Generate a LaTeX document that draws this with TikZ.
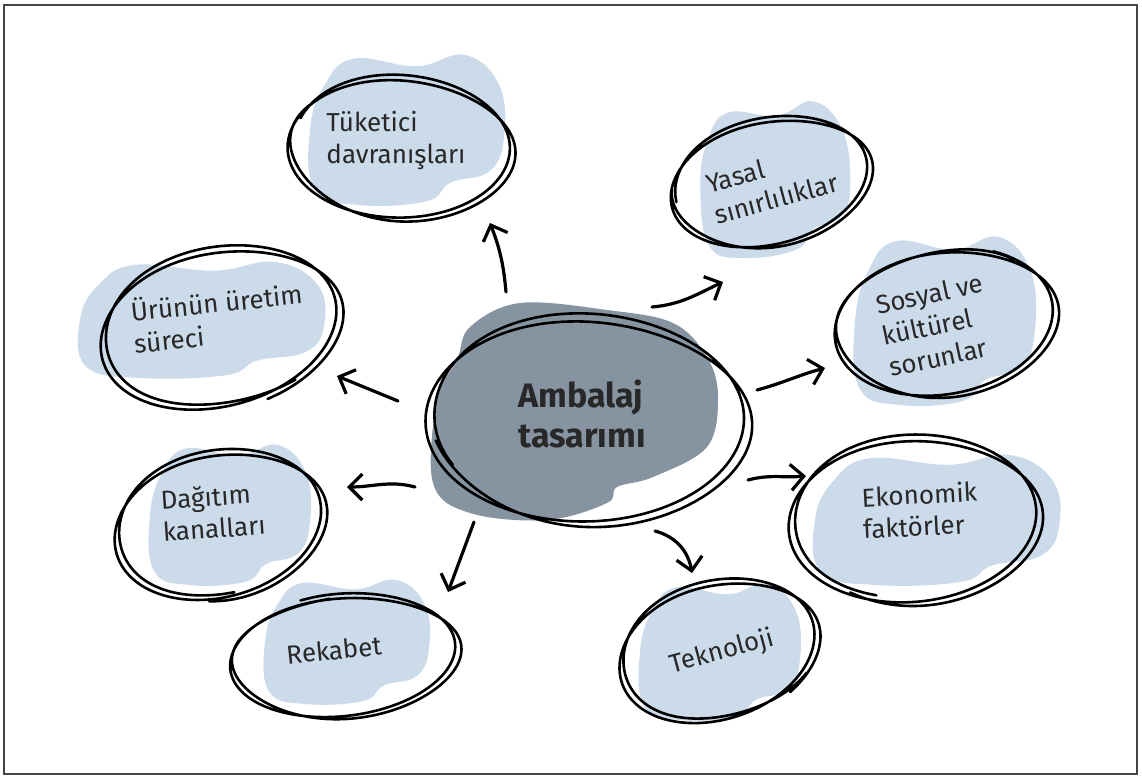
\documentclass[tikz,border=0pt]{standalone}
\usepackage{fontspec}
\setmainfont{Fira Sans}
\usetikzlibrary{arrows.meta}
\definecolor{blobc}{RGB}{203,219,234}
\definecolor{centc}{RGB}{134,148,162}
\definecolor{ink}{RGB}{40,40,40}
\definecolor{framec}{RGB}{68,68,68}
\newcommand\scrib[6]{%
 \draw[sk, shift={(#1,#2)}, rotate=#5] plot[smooth, domain=#6:#6+735, samples=120, variable=\t]
 ({#3*(1+0.035*sin(1.6*\t))*cos(\t)}, {#4*(1+0.05*cos(1.3*\t+40))*sin(\t)});}
\newcommand\blob[6]{%
 \fill[#6, shift={(#1,#2)}, rotate=#5, xscale=#3, yscale=#4] plot[smooth cycle, tension=0.7] coordinates
 {(-0.55,-0.95) (0.1,-0.85) (0.6,-1.0) (0.95,-0.6) (1.0,0.1) (0.85,0.55) (0.45,0.7) (0.2,0.95) (-0.5,1.0) (-0.95,0.8) (-1.0,0.0) (-0.85,-0.6)};}
\tikzset{
 sk/.style={line width=2.6pt, draw=black, line cap=round, line join=round},
 arr/.style={line width=3.2pt, line cap=round, -{Straight Barb[length=13pt, width=26pt, line width=3.2pt]}},
 lbl/.style={text=ink, font=\fontsize{26}{32}\selectfont, align=left, inner sep=0pt},
 clbl/.style={text=ink, font=\bfseries\fontsize{34}{40}\selectfont, align=left, inner sep=0pt}
}
\begin{document}
\begin{tikzpicture}[x=1pt, y=-1pt]
\useasboundingbox (0,0) rectangle (1142,776);
\fill[white] (0,0) rectangle (1142,776);
\draw[framec, line width=2pt] (4,5) rectangle (1137,774);

% central blob
\fill[centc] plot[smooth cycle, tension=0.6] coordinates {(470,327) (520,303) (607,310) (673,323) (707,357) (718,397) (707,447) (653,477) (617,487) (607,503) (547,520) (470,513) (433,483) (437,400) (457,360)};

% light blobs
\blob{407}{130}{97}{75}{0}{blobc}
\blob{775}{180}{75}{75}{5}{blobc}
\blob{945}{321}{90}{84}{0}{blobc}
\blob{937}{520}{122}{65}{0}{blobc}
\blob{720}{652}{80}{68}{0}{blobc}
\blob{347}{642}{82}{62}{0}{blobc}
\blob{230}{515}{80}{70}{0}{blobc}
\blob{202}{320}{122}{58}{0}{blobc}

% scribbled outlines
\scrib{588}{420}{159}{102}{-2}{150}
\scrib{401}{148}{111}{70}{-3}{200}
\scrib{771}{182}{100}{62}{12}{180}
\scrib{946}{322}{110}{72}{8}{300}
\scrib{915}{520}{124}{82}{3}{110}
\scrib{719}{651}{100}{68}{15}{40}
\scrib{345}{656}{113}{60}{5}{250}
\scrib{220}{525}{105}{72}{12}{90}
\scrib{221}{328}{120}{78}{12}{60}

% labels
\node[clbl] (amb) at (582,414) {Ambalaj\\tasarımı};
\node[lbl] (tuk) at (396,140) {Tüketici\\davranışları};
\node[lbl, rotate=15] (yas) at (772,183) {Yasal\\sınırlılıklar};
\node[lbl, rotate=12] (sos) at (936,325) {Sosyal ve\\kültürel\\sorunlar};
\node[lbl, rotate=3] (eko) at (920,510) {Ekonomik\\faktörler};
\node[lbl, rotate=15] (tek) at (722,652) {Teknoloji};
\node[lbl, rotate=6] (rek) at (334,650) {Rekabet};
\node[lbl, rotate=4] (dag) at (213,512) {Dağıtım\\kanalları};
\node[lbl, rotate=6] (uru) at (218,317) {Ürünün üretim\\süreci};

% arrow ends
\coordinate (s1) at (506,292); \coordinate (e1) at (490,223);
\coordinate (s2) at (652,307); \coordinate (e2) at (723,282);
\coordinate (s3) at (757,390); \coordinate (e3) at (825,368);
\coordinate (s4) at (748,480); \coordinate (e4) at (806,476);
\coordinate (s5) at (655,531); \coordinate (e5) at (692,573);
\coordinate (s6) at (474,522); \coordinate (e6) at (448,592);
\coordinate (s7) at (415,487); \coordinate (e7) at (347,487);
\coordinate (s8) at (398,401); \coordinate (e8) at (337,376);

\draw[arr] (s1) to[bend right=8] (e1);
\draw[arr] (s2) to[out=5, in=205] (e2);
\draw[arr] (s3) to[out=15, in=195] (e3);
\draw[arr] (s4) to[out=15, in=185] (e4);
\draw[arr] (s5) to[out=-15, in=100] (e5);
\draw[arr] (s6) -- (e6);
\draw[arr] (s7) to[out=165, in=0] (e7);
\draw[arr] (s8) -- (e8);
\end{tikzpicture}
\end{document}
